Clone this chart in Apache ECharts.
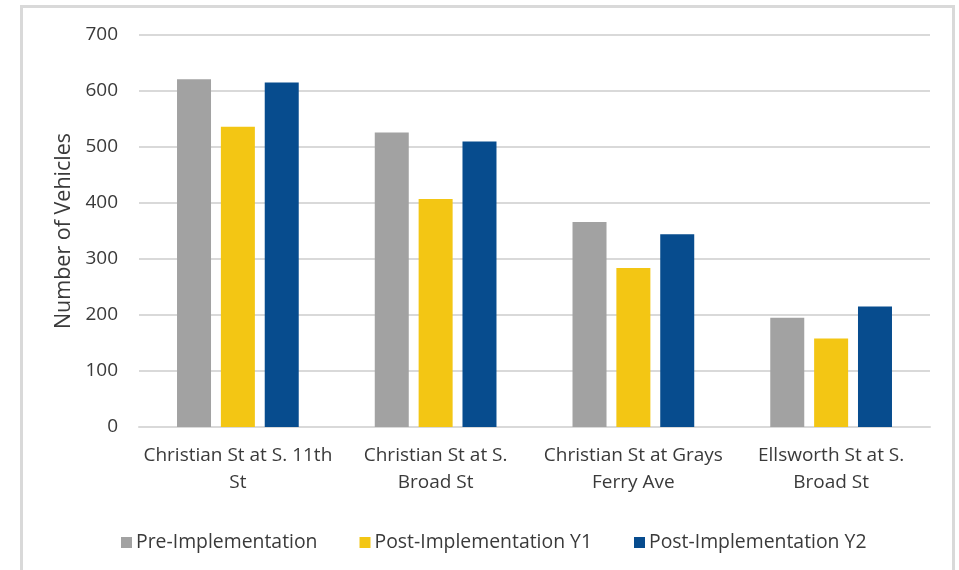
<!DOCTYPE html>
<html>
<head>
<meta charset="utf-8">
<script src="https://cdn.jsdelivr.net/npm/echarts@6/dist/echarts.min.js"></script>
<style>
  html, body { margin: 0; padding: 0; background: #fff; }
  #chart { width: 959px; height: 570px; }
</style>
</head>
<body>
<div id="chart"></div>
<script>
// intersections and counts
var locations = [
  "Christian St at S. 11th\nSt",
  "Christian St at S.\nBroad St",
  "Christian St at Grays\nFerry Ave",
  "Ellsworth St at S.\nBroad St"
];
var preImpl = [621, 526, 366, 195];
var postY1 = [536, 407, 284, 158];
var postY2 = [615, 510, 344, 215];
var yTicks = [0, 100, 200, 300, 400, 500, 600, 700];

var font = "'Open Sans', 'Noto Sans', sans-serif";
var chart = echarts.init(document.getElementById("chart"));

function barSeries(name, data, color) {
  return {
    name: name,
    type: "bar",
    data: data,
    barWidth: 34,
    barGap: "29%",
    itemStyle: { color: color }
  };
}

chart.setOption({
  animation: false,
  textStyle: { fontFamily: font },
  graphic: [{
    type: "rect",
    shape: { x: 21.5, y: 6.5, width: 932, height: 600 },
    style: { fill: "none", stroke: "#d9d9d9", lineWidth: 3 },
    silent: true
  }],
  grid: { left: 139, right: 29, top: 35, bottom: 143 },
  legend: {
    left: 116,
    top: 528,
    itemWidth: 11,
    itemHeight: 11,
    itemGap: 42,
    icon: "rect",
    textStyle: { fontFamily: font, fontSize: 19.4, color: "#3a3a3a", padding: [0, 0, 0, -1] },
    data: ["Pre-Implementation", "Post-Implementation Y1", "Post-Implementation Y2"]
  },
  xAxis: {
    type: "category",
    data: locations,
    axisLine: { lineStyle: { color: "#d9d9d9", width: 2 } },
    axisTick: { show: false },
    axisLabel: {
      fontFamily: font, fontSize: 19, color: "#3a3a3a",
      lineHeight: 27, margin: 15, interval: 0
    }
  },
  yAxis: {
    type: "value",
    min: yTicks[0],
    max: yTicks[yTicks.length - 1],
    interval: 100,
    name: "Number of Vehicles",
    nameLocation: "middle",
    nameGap: 63,
    nameTextStyle: { fontFamily: font, fontSize: 21.5, color: "#3a3a3a" },
    axisLine: { show: false },
    axisTick: { show: false },
    axisLabel: { fontFamily: font, fontSize: 19, color: "#3a3a3a", margin: 21 },
    splitLine: { lineStyle: { color: "#d9d9d9", width: 2 } }
  },
  series: [
    barSeries("Pre-Implementation", preImpl, "#a2a2a2"),
    barSeries("Post-Implementation Y1", postY1, "#f3c614"),
    barSeries("Post-Implementation Y2", postY2, "#074c8e")
  ]
});
</script>
</body>
</html>
